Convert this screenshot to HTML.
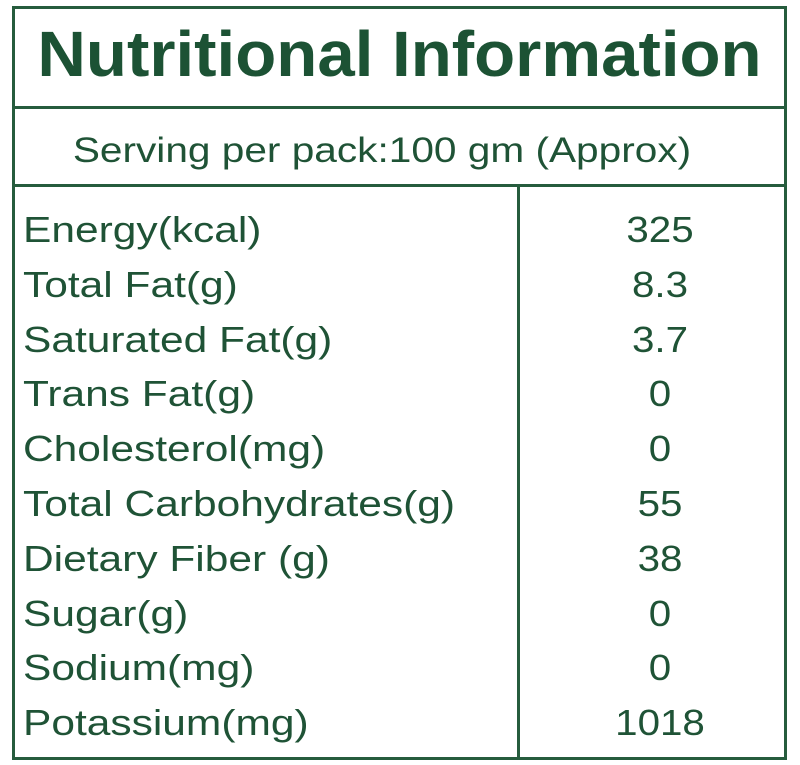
<!DOCTYPE html>
<html><head><style>
html,body{margin:0;padding:0;background:#fff;width:800px;height:765px;overflow:hidden}
body{position:relative;font-family:"Liberation Sans","DejaVu Sans",sans-serif;color:#1f5336}
.l{position:absolute;background:#265c3d}
.t{position:absolute;white-space:nowrap;line-height:1}
</style></head><body>
<div class="l" style="left:12px;top:6px;width:775px;height:3px"></div>
<div class="l" style="left:12px;top:757px;width:775px;height:3px"></div>
<div class="l" style="left:12px;top:6px;width:3px;height:754px"></div>
<div class="l" style="left:784px;top:6px;width:3px;height:754px"></div>
<div class="l" style="left:12px;top:106px;width:775px;height:3px"></div>
<div class="l" style="left:12px;top:184px;width:775px;height:3px"></div>
<div class="l" style="left:517px;top:184px;width:3px;height:576px"></div>
<div class="t" style="left:12px;width:775px;text-align:center;top:22px;font-size:64px;font-weight:bold;color:#1c5234;transform:scaleX(1.05)">Nutritional Information</div>
<div class="t" style="left:0;width:764px;text-align:center;top:133px;font-size:35px;transform:scaleX(1.16)">Serving per pack:100 gm (Approx)</div>
<div id="rows"></div>
<script>
var d=[["Energy(kcal)","325"],["Total Fat(g)","8.3"],["Saturated Fat(g)","3.7"],["Trans Fat(g)","0"],["Cholesterol(mg)","0"],["Total Carbohydrates(g)","55"],["Dietary Fiber (g)","38"],["Sugar(g)","0"],["Sodium(mg)","0"],["Potassium(mg)","1018"]];
var h="";
for(var i=0;i<d.length;i++){var y=212+i*54.8;
h+='<div class="t" style="left:23px;top:'+y+'px;font-size:36px;transform:scaleX(1.18);transform-origin:left">'+d[i][0]+'</div>';
h+='<div class="t" style="left:560px;width:200px;text-align:center;top:'+y+'px;font-size:36px;transform:scaleX(1.12)">'+d[i][1]+'</div>';}
document.getElementById("rows").innerHTML=h;
</script>
</body></html>
